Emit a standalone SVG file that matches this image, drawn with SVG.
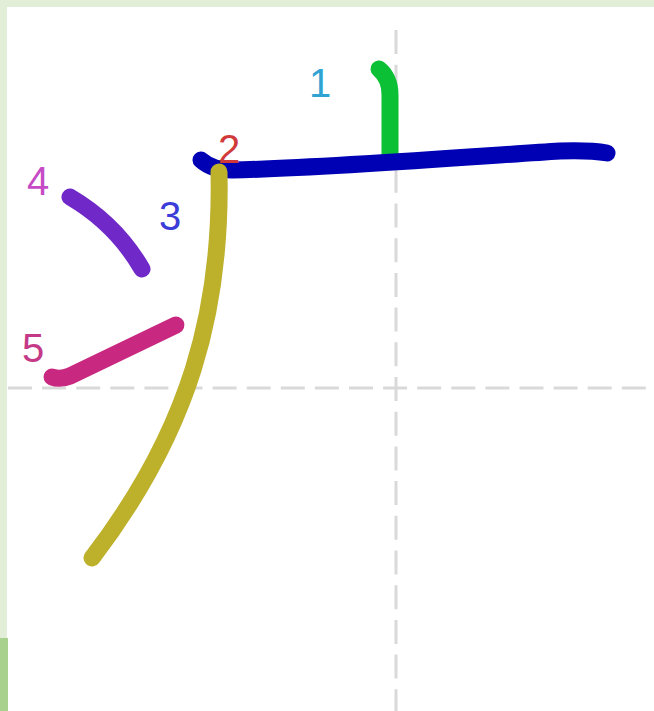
<svg xmlns="http://www.w3.org/2000/svg" width="654" height="711" viewBox="0 0 654 711">
  <style>
    .guide { stroke: #d9d9d9; stroke-width: 3; fill: none; }
    .stroke { fill: none; stroke-width: 17; stroke-linecap: round; stroke-linejoin: round; }
    .num { font-family: "Liberation Sans", Arial, sans-serif; font-size: 40px; text-anchor: middle; }
  </style>
  <rect x="0" y="0" width="654" height="711" fill="#ffffff"/>
  <rect x="0" y="0" width="654" height="7" fill="#e2eed8"/>
  <rect x="0" y="0" width="7" height="711" fill="#e2eed8"/>
  <rect x="0" y="638" width="8" height="73" fill="#a9d18e"/>
  <g id="guides">
    <line class="guide" x1="396" y1="30" x2="396" y2="711" stroke-dasharray="24 10.7"/>
    <line class="guide" x1="8" y1="388" x2="654" y2="388" stroke-dasharray="24 10.1"/>
  </g>
  <g id="stroke1">
    <path class="stroke" stroke="#0bc034" d="M379,69 Q390,78 390,95 L390,155"/>
  </g>
  <g id="stroke2">
    <path class="stroke" stroke="#0000b4" d="M201,160 Q212,170 232,170 C330,168 480,156 560,151 Q590,150 607,153"/>
  </g>
  <g id="stroke3">
    <path class="stroke" stroke="#bdb02b" d="M219,172 C222,310 190,430 92,558"/>
  </g>
  <g id="stroke4">
    <path class="stroke" stroke="#7028c8" d="M70,197 Q116,224 142,269"/>
  </g>
  <g id="stroke5">
    <path class="stroke" stroke="#c8287f" d="M52,377 Q60,380 70,376 L176,325"/>
  </g>
  <g id="labels">
    <text class="num" x="320" y="97" fill="#30a3d3">1</text>
    <text class="num" x="229" y="163" fill="#d03a3a">2</text>
    <text class="num" x="170" y="230" fill="#3c3cd8">3</text>
    <text class="num" x="38" y="195" fill="#c64cc6">4</text>
    <text class="num" x="33" y="362" fill="#c43a86">5</text>
  </g>
</svg>
